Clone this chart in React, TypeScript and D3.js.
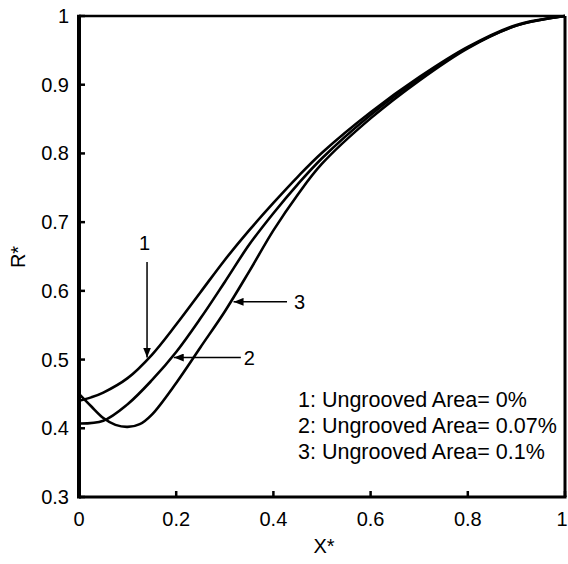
import React from "react";
import * as d3 from "d3";

const xTicks = [0, 0.2, 0.4, 0.6, 0.8, 1];
const yTicks = [0.3, 0.4, 0.5, 0.6, 0.7, 0.8, 0.9, 1];

const curve1X = [0, 0.025, 0.05, 0.1, 0.15, 0.2, 0.25, 0.3, 0.35, 0.4, 0.45, 0.5, 0.6, 0.7, 0.8, 0.9, 1];
const curve1Y = [0.44, 0.445, 0.452, 0.473, 0.507, 0.551, 0.598, 0.645, 0.688, 0.728, 0.766, 0.801, 0.86, 0.911, 0.955, 0.987, 1.0];

const curve2X = [0, 0.05, 0.1, 0.15, 0.2, 0.25, 0.3, 0.35, 0.4, 0.45, 0.5, 0.6, 0.7, 0.8, 0.9, 1];
const curve2Y = [0.407, 0.411, 0.435, 0.47, 0.511, 0.56, 0.613, 0.667, 0.713, 0.755, 0.793, 0.856, 0.909, 0.954, 0.986, 1.0];

const curve3X = [0, 0.025, 0.05, 0.075, 0.1, 0.125, 0.15, 0.2, 0.25, 0.3, 0.35, 0.4, 0.45, 0.5, 0.6, 0.7, 0.8, 0.9, 1];
const curve3Y = [0.45, 0.432, 0.415, 0.405, 0.402, 0.406, 0.42, 0.466, 0.518, 0.57, 0.628, 0.688, 0.74, 0.785, 0.851, 0.906, 0.953, 0.986, 1.0];

const legendLines = ["1: Ungrooved Area= 0%", "2: Ungrooved Area= 0.07%", "3: Ungrooved Area= 0.1%"];

// annotation arrows in data units: start point and tip
const arrowLabels = ["1", "2", "3"];
const arrowFrom = [[0.14, 0.642], [0.333, 0.503], [0.428, 0.584]];
const arrowTo = [[0.14, 0.503], [0.195, 0.503], [0.318, 0.584]];

const W = 568;
const H = 564;
const left = 79, right = 565, top = 16, bottom = 497;

export default function App() {
  const x = d3.scaleLinear().domain([0, 1]).range([left, right]);
  const y = d3.scaleLinear().domain([0.3, 1]).range([bottom, top]);
  const line = d3
    .line<[number, number]>()
    .x((d) => x(d[0]))
    .y((d) => y(d[1]))
    .curve(d3.curveCatmullRom.alpha(0.5));
  const series = [
    curve1X.map((v, i) => [v, curve1Y[i]] as [number, number]),
    curve2X.map((v, i) => [v, curve2Y[i]] as [number, number]),
    curve3X.map((v, i) => [v, curve3Y[i]] as [number, number]),
  ];
  const font = "Liberation Sans, Arial, sans-serif";
  return (
    <svg
      width={W}
      height={H}
      style={{ position: "absolute", left: 0, top: 0, background: "#fff" }}
      fontFamily={font}
    >
      <defs>
        <marker id="ah" viewBox="0 0 10 8" refX="10" refY="4" markerWidth="10" markerHeight="8" markerUnits="userSpaceOnUse" orient="auto">
          <path d="M0,0 L10,4 L0,8 Z" fill="#000" />
        </marker>
      </defs>
      <rect x={0} y={0} width={W} height={H} fill="#fff" />
      {series.map((s, i) => (
        <path key={i} d={line(s) || ""} fill="none" stroke="#000" strokeWidth={2.6} />
      ))}
      {/* frame */}
      <line x1={left} x2={right} y1={top} y2={top} stroke="#000" strokeWidth={2.6} />
      <line x1={right} x2={right} y1={top} y2={bottom} stroke="#000" strokeWidth={3} />
      <line x1={left} x2={right + 1.5} y1={bottom} y2={bottom} stroke="#000" strokeWidth={3} />
      <line x1={left} x2={left} y1={top - 1.3} y2={bottom + 1.5} stroke="#000" strokeWidth={4} />
      {/* ticks */}
      {xTicks.map((t) => (
        <g key={"x" + t}>
          <line x1={x(t)} x2={x(t)} y1={bottom} y2={bottom - 6} stroke="#000" strokeWidth={2.5} />
          <text x={t === 1 ? x(t) - 3 : x(t)} y={526} textAnchor="middle" fontSize={20}>
            {d3.format("")(t)}
          </text>
        </g>
      ))}
      {yTicks.map((t) => (
        <g key={"y" + t}>
          <line x1={left} x2={left + 6} y1={y(t)} y2={y(t)} stroke="#000" strokeWidth={2.5} />
          <text x={69} y={y(t) + 7} textAnchor="end" fontSize={20}>
            {d3.format("")(t)}
          </text>
        </g>
      ))}
      {/* axis labels */}
      <text x={324} y={553} textAnchor="middle" fontSize={20}>X*</text>
      <text transform={`translate(25,257) rotate(-90)`} textAnchor="middle" fontSize={20}>R*</text>
      {/* arrows */}
      {arrowLabels.map((l, i) => (
        <line
          key={"a" + l}
          x1={x(arrowFrom[i][0])}
          y1={y(arrowFrom[i][1])}
          x2={x(arrowTo[i][0])}
          y2={y(arrowTo[i][1])}
          stroke="#000"
          strokeWidth={1.5}
          markerEnd="url(#ah)"
        />
      ))}
      <text x={x(arrowFrom[0][0]) - 8} y={y(arrowFrom[0][1]) - 12} textAnchor="start" fontSize={20}>{arrowLabels[0]}</text>
      <text x={x(arrowFrom[1][0]) + 3} y={y(arrowFrom[1][1]) + 7} textAnchor="start" fontSize={20}>{arrowLabels[1]}</text>
      <text x={x(arrowFrom[2][0]) + 7} y={y(arrowFrom[2][1]) + 7} textAnchor="start" fontSize={20}>{arrowLabels[2]}</text>
      {/* legend */}
      {legendLines.map((t, i) => (
        <text key={t} x={298} y={407 + i * 26} fontSize={21.5}>
          {t}
        </text>
      ))}
    </svg>
  );
}
